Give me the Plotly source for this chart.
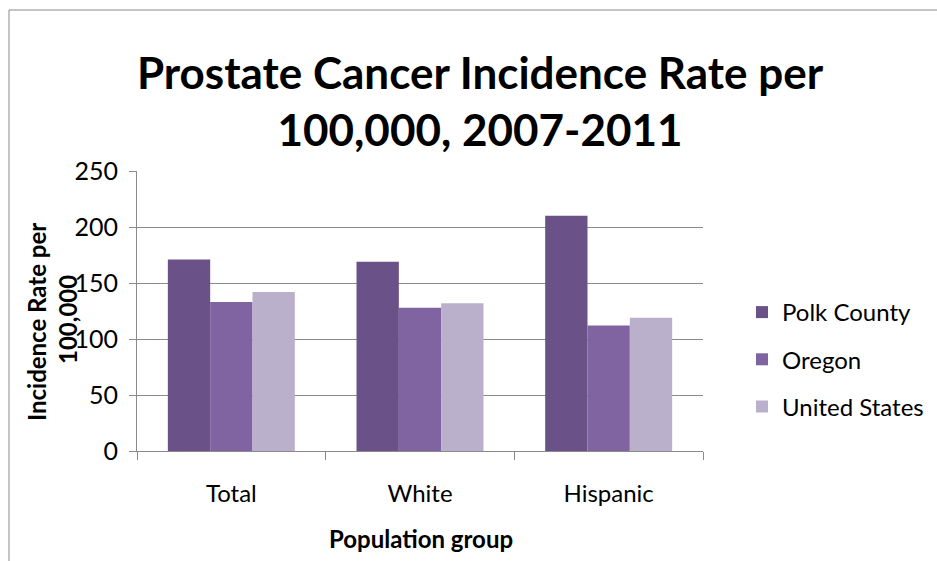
import plotly.graph_objects as go

# Incidence rates per 100,000 men, 2007-2011
groups = ["Total", "White", "Hispanic"]
series_names = ["Polk County", "Oregon", "United States"]
polk_county = [171, 169, 210]
oregon = [133, 128, 112]
united_states = [142, 132, 119]
series_values = [polk_county, oregon, united_states]
series_colors = ["#6a5288", "#8064a2", "#bab0cb"]
y_ticks = [0, 50, 100, 150, 200, 250]

FONT = "Lato, 'Open Sans', sans-serif"
W, H = 937, 561
L, R, T, B = 137, 234, 171, 110
plot_w = W - L - R
plot_h = H - T - B

fig = go.Figure()
for i, (name, vals, col) in enumerate(zip(series_names, series_values, series_colors)):
    fig.add_trace(go.Bar(
        x=groups, y=vals, name=name, marker=dict(color=col, line=dict(width=0)),
        legendgroup=f"g{i}",
    ))

# outer chart frame: top and left edges (the rest runs off the canvas)
frame_left = (9 - L) / plot_w
frame_top = (H - B - 10) / plot_h
frame_style = dict(color="#8a8a8a", width=1)
fig.add_shape(type="line", xref="paper", yref="paper",
              x0=frame_left, x1=(W + 50 - L) / plot_w, y0=frame_top, y1=frame_top,
              line=frame_style, layer="below")
fig.add_shape(type="line", xref="paper", yref="paper",
              x0=frame_left, x1=frame_left, y0=frame_top, y1=-(B + 50) / plot_h,
              line=frame_style, layer="below")

# two-line vertical axis title
fig.add_annotation(
    text="<b>Incidence Rate per</b>", textangle=-90, xref="paper", yref="paper",
    x=(36 - L) / plot_w, y=(H - B - 322) / plot_h, showarrow=False,
    font=dict(family=FONT, size=24, color="#000"), xanchor="center", yanchor="middle",
)
fig.add_annotation(
    text="<b>100,000</b>", textangle=-90, xref="paper", yref="paper",
    x=(67 - L) / plot_w, y=(H - B - 320) / plot_h, showarrow=False,
    font=dict(family=FONT, size=24, color="#000"), xanchor="center", yanchor="middle",
)
fig.add_annotation(
    text="<b>Population group</b>", xref="paper", yref="paper",
    x=(421 - L) / plot_w, y=(H - B - 538) / plot_h, showarrow=False,
    font=dict(family=FONT, size=24, color="#000"), xanchor="center", yanchor="middle",
)

fig.update_layout(
    width=W, height=H,
    margin=dict(l=L, r=R, t=T, b=B, autoexpand=False),
    paper_bgcolor="white", plot_bgcolor="white",
    barmode="group", bargap=0.327, bargroupgap=0,
    title=dict(
        text="<b>Prostate Cancer Incidence Rate per<br>100,000, 2007-2011</b>",
        x=480 / W, xanchor="center", y=1 - 89 / H, yanchor="middle",
        font=dict(family=FONT, size=44, color="#000"),
    ),
    font=dict(family=FONT, color="#000"),
    legend=dict(
        x=(742 - L) / plot_w, xanchor="left", y=(H - B - 290) / plot_h, yanchor="top",
        font=dict(family=FONT, size=24, color="#000"),
        tracegroupgap=13, bgcolor="rgba(0,0,0,0)",
    ),
    xaxis=dict(
        type="category", tickson="boundaries", ticks="outside", ticklen=8,
        tickcolor="#8a8a8a", showline=True, linecolor="#8a8a8a", linewidth=1,
        showgrid=False, tickfont=dict(family=FONT, size=24, color="#000"),
        ticklabelstandoff=21,
    ),
    yaxis=dict(
        range=[0, 250], tickvals=y_ticks, ticks="outside", ticklen=7,
        tickcolor="#8a8a8a", showline=True, linecolor="#8a8a8a", linewidth=1,
        showgrid=True, gridcolor="#8a8a8a", gridwidth=1, zeroline=False,
        tickfont=dict(family=FONT, size=25, color="#000"), ticklabelstandoff=6,
    ),
)

fig.write_html("out.html")
